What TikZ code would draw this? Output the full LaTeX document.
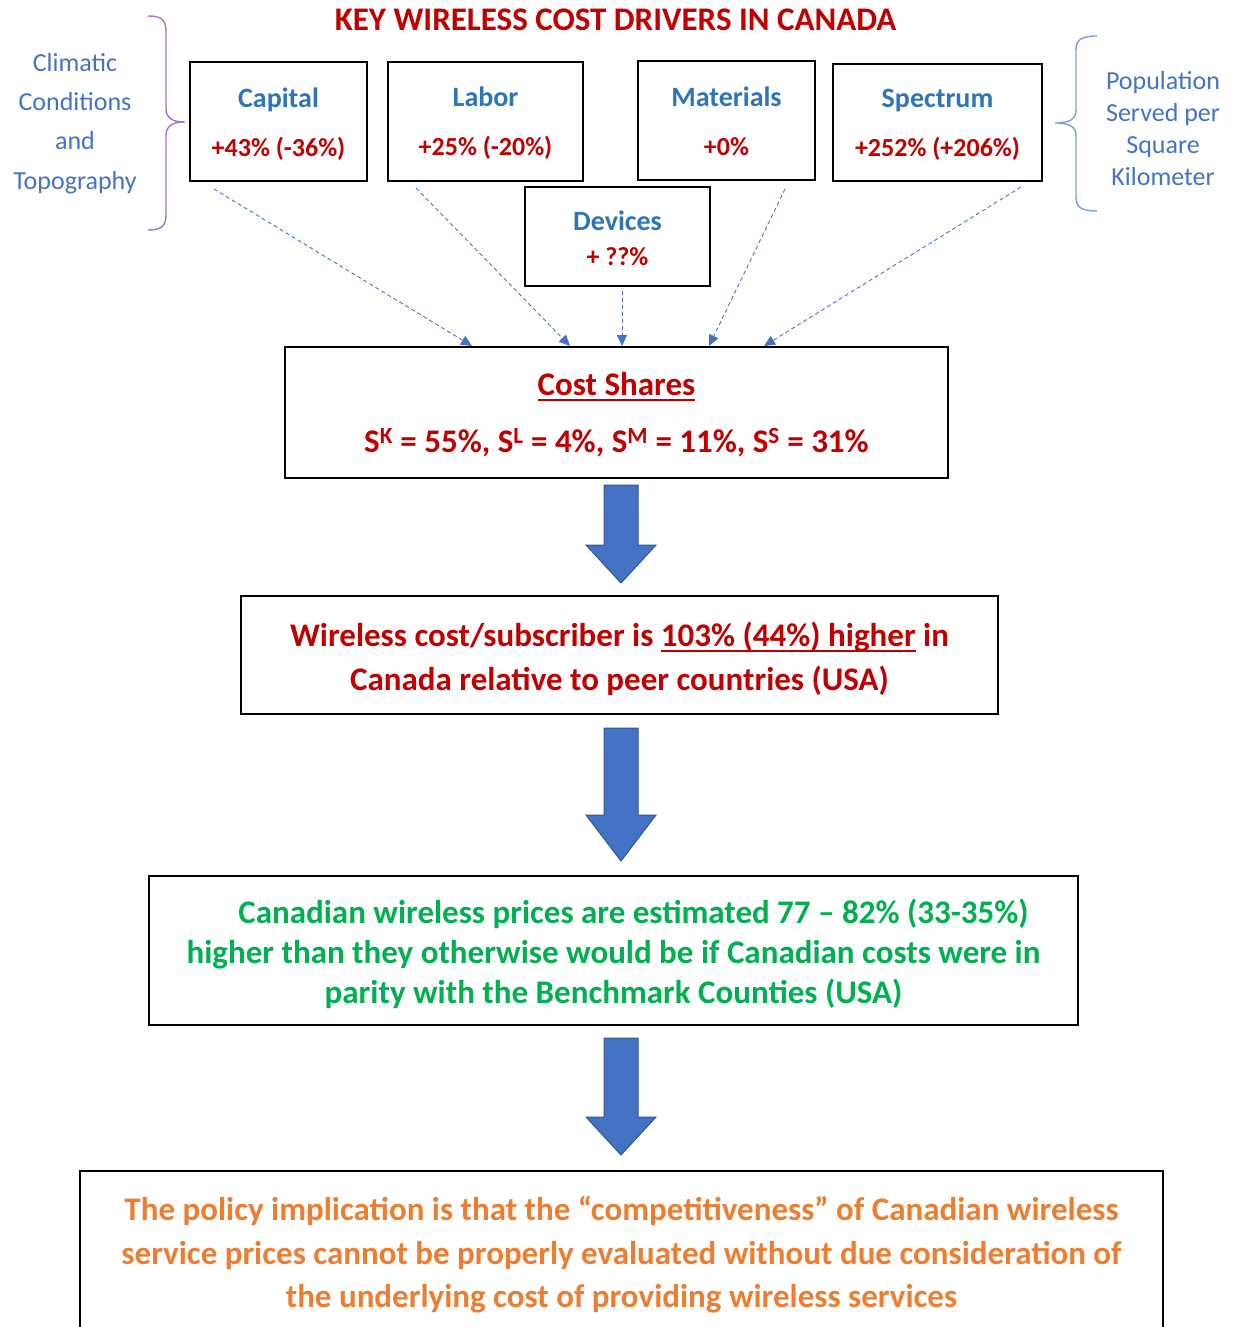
\documentclass[tikz,border=0pt]{standalone}
\usepackage{fontspec}
\setmainfont{Carlito}
\usetikzlibrary{arrows.meta,calc}

\definecolor{keyred}{HTML}{C00000}
\definecolor{labelblue}{HTML}{2E75B6}
\definecolor{sideblue}{HTML}{4472C4}
\definecolor{flowblue}{HTML}{4472C4}
\definecolor{flowedge}{HTML}{2F5597}
\definecolor{bracepurple}{HTML}{A277CC}
\definecolor{braceblue}{HTML}{7B9FDA}
\definecolor{pricegreen}{HTML}{00B050}
\definecolor{policyorange}{HTML}{ED7D31}

% underline a little below the baseline
\newcommand{\ulined}[1]{\setbox0\hbox{#1}\rlap{\rule[-5pt]{\wd0}{1.8pt}}\box0\relax}

% struts that fix the first and last line of a box
\newcommand{\tstrut}[1]{\rule{0pt}{#1}}
\newcommand{\bstrut}[1]{\rule[-#1]{0pt}{#1}}

% driver name on top of a box
\newcommand{\drvlabel}[1]{{\fontsize{28}{34}\selectfont\color{labelblue}#1}}

% fat down arrow between two boxes
\newcommand{\downblock}[5]{%
  \filldraw[blockarrow] let \p1=(axis |- #1.south), \p2=(axis |- #2.north) in
    (\x1-17pt,\y1-#3) -- (\x1+17pt,\y1-#3) -- (\x1+17pt,\y2+#4+#5) -- (\x1+35pt,\y2+#4+#5)
    -- (\x1,\y2+#4) -- (\x1-35pt,\y2+#4+#5) -- (\x1-17pt,\y2+#4+#5) -- cycle;}

\begin{document}
\begin{tikzpicture}[x=1pt, y=-1pt,
  driver/.style={draw, line width=2pt, inner sep=0pt, align=center, text=keyred,
    font=\fontsize{26}{49}\selectfont\bfseries},
  flowbox/.style={draw, line width=2pt, inner sep=0pt, align=center,
    font=\fontsize{33}{44}\selectfont\bfseries},
  sidenote/.style={align=center, text=sideblue},
  feed/.style={draw=flowblue, line width=0.9pt, dash pattern=on 4pt off 3pt,
    -{Triangle[length=11pt,width=10pt]}},
  blockarrow/.style={fill=flowblue, draw=flowedge, line width=1pt}]

\useasboundingbox (0,0) rectangle (1232,1327);
\clip (0,0) rectangle (1232,1327);
\coordinate (axis) at (621,0);

% === Title ===
\node[text=keyred, font=\fontsize{33}{38}\selectfont\bfseries] (title) at (615.5,20)
  {KEY WIRELESS COST DRIVERS IN CANADA};

% === Cost drivers ===
\node[driver, minimum width=177pt, minimum height=119pt] (capital) at (278.5,121.5)
  {\tstrut{30pt}\drvlabel{Capital}\\+43\% (-36\%)\bstrut{9pt}};
\node[driver, minimum width=195pt, minimum height=119pt] (labor) at (485.5,121.5)
  {\tstrut{28pt}\drvlabel{Labor}\\+25\% (-20\%)\bstrut{9pt}};
\node[driver, minimum width=177pt, minimum height=119pt] (materials) at (726.5,120.5)
  {\tstrut{29pt}\drvlabel{Materials}\\+0\%\bstrut{9pt}};
\node[driver, minimum width=209pt, minimum height=117pt] (spectrum) at (937.5,122.5)
  {\tstrut{28pt}\drvlabel{Spectrum}\\+252\% (+206\%)\bstrut{9pt}};
\node[driver, minimum width=185pt, minimum height=99pt, font=\fontsize{26}{35}\selectfont\bfseries]
  (devices) at (617.5,236.5) {\tstrut{31pt}\drvlabel{Devices}\\+ ??\%\bstrut{9pt}};

% === Side factors ===
\node[sidenote, font=\fontsize{26}{39.3}\selectfont] (climate) at (75,123.5)
  {Climatic\\Conditions\\and\\Topography};
\draw[bracepurple, line width=1.4pt] (148,16) .. controls (162,16) and (166,20) .. (166,32)
  -- (166,108) .. controls (166,118) and (172,122) .. (185,122)
  .. controls (172,122) and (166,126) .. (166,136) -- (166,214)
  .. controls (166,226) and (162,230) .. (148,230);

\node[sidenote, font=\fontsize{26}{32}\selectfont] (density) at (1163,129)
  {Population\\Served per\\Square\\Kilometer};
\draw[braceblue, line width=1.4pt] (1097,36) .. controls (1081,36) and (1076,40) .. (1076,50)
  -- (1076,110) .. controls (1076,119) and (1070,123) .. (1055,123)
  .. controls (1070,123) and (1076,127) .. (1076,136) -- (1076,197)
  .. controls (1076,207) and (1081,211) .. (1097,211);

% === Cost shares ===
\node[flowbox, text=keyred, minimum width=663pt, minimum height=131pt,
  font=\fontsize{33}{57}\selectfont\bfseries] (shares) at (616.5,412.5)
  {\tstrut{33pt}\ulined{Cost Shares}\\S\textsuperscript{K} = 55\%, S\textsuperscript{L} = 4\%,
   S\textsuperscript{M} = 11\%, S\textsuperscript{S} = 31\%\bstrut{10pt}};

\draw[feed] ([xshift=25pt,yshift=-7pt]capital.south west) -- ([xshift=188pt]shares.north west);
\draw[feed] ([xshift=29pt,yshift=-6pt]labor.south west) -- ([xshift=286pt]shares.north west);
\draw[feed] ([xshift=4.5pt,yshift=-4pt]devices.south) coordinate (dv) -- (dv |- shares.north);
\draw[feed] ([xshift=-31pt,yshift=-8pt]materials.south east) -- ([xshift=425pt]shares.north west);
\draw[feed] ([xshift=-22pt,yshift=-5pt]spectrum.south east) -- ([xshift=480pt]shares.north west);

% === Results ===
\node[flowbox, text=keyred, minimum width=757pt, minimum height=118pt] (result) at (619.5,655)
  {\tstrut{37pt}Wireless cost/subscriber is \ulined{103\% (44\%) higher} in\\
   Canada relative to peer countries (USA)\bstrut{10pt}};

\node[flowbox, text=pricegreen, minimum width=929pt, minimum height=149pt,
  font=\fontsize{33}{40}\selectfont\bfseries] (prices) at (613.5,950.5)
  {\tstrut{36pt}\hspace*{40pt}Canadian wireless prices are estimated 77 – 82\% (33-35\%)\\
   higher than they otherwise would be if Canadian costs were in\\
   parity with the Benchmark Counties (USA)\bstrut{10pt}};

\node[flowbox, text=policyorange, minimum width=1083pt, minimum height=166pt,
  font=\fontsize{33}{43.5}\selectfont\bfseries] (policy) at (621.5,1254)
  {\tstrut{30pt}The policy implication is that the “competitiveness” of Canadian wireless\\
   service prices cannot be properly evaluated without due consideration of\\
   the underlying cost of providing wireless services\bstrut{10pt}};

% === Block arrows ===
\downblock{shares}{result}{6pt}{12pt}{38pt}
\downblock{result}{prices}{13pt}{14pt}{46pt}
\downblock{prices}{policy}{12pt}{15pt}{38pt}

\end{tikzpicture}
\end{document}
